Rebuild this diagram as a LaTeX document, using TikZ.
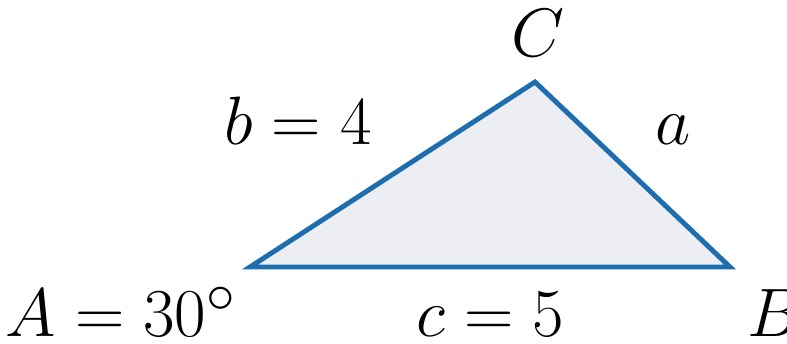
\documentclass[tikz,border=0pt]{standalone}
\usepackage{amsmath,amssymb}
\usepackage{graphicx}
\usepackage{tikz}
\usetikzlibrary{calc,positioning}
\definecolor{SideBlue}{RGB}{30,110,175}
\definecolor{FaceGray}{RGB}{236,238,243}
\newcommand{\trilbl}[1]{\scalebox{1.567}{$#1$}}
\tikzset{
    side/.style={line width=2.8pt,SideBlue,line join=miter},
    face/.style={fill=FaceGray},
    lbl/.style={inner sep=0pt,anchor=base,font=\Huge}
}
\begin{document}
\begin{tikzpicture}
		\useasboundingbox (0,0) rectangle (15.74,6.88);
		% vertices
		\coordinate (A) at (5.0,1.54);
		\coordinate (B) at (14.6,1.54);
		\coordinate (C) at (10.7,5.24);
		% triangle
		\fill[face] (A) -- (B) -- (C) -- cycle;
		\draw[side] (A) -- (B) -- (C) -- cycle;
		% labels
		\node[lbl] (lC) at (10.76,5.74) {\trilbl{C}};
		\node[lbl] (lb) at (5.96,3.98) {\trilbl{b=4}};
		\node[lbl] (la) at (13.46,3.98) {\trilbl{a}};
		\node[lbl] (lA) at (2.42,0.14) {\trilbl{A=30^\circ}};
		\node[lbl] (lc) at (9.8,0.14) {\trilbl{c=5}};
		\node[lbl,anchor=base west] (lB) at (14.94,0.14) {\trilbl{B}};
\end{tikzpicture}
\end{document}
